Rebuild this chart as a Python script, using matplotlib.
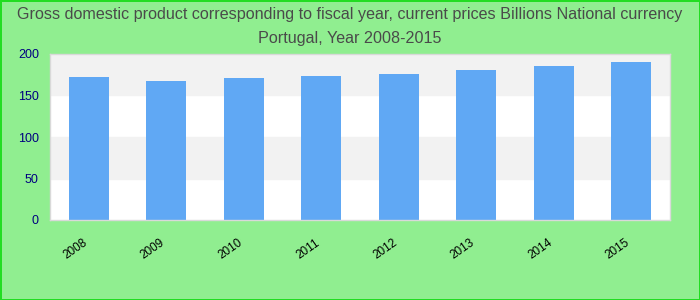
import matplotlib.pyplot as plt
import matplotlib.transforms as mtransforms

years = ["2008", "2009", "2010", "2011", "2012", "2013", "2014", "2015"]
gdp = [172, 168, 171, 174, 176, 181, 186, 190]
y_ticks = [0, 50, 100, 150, 200]

plt.rcParams['font.family'] = ['Liberation Sans', 'DejaVu Sans']

fig = plt.figure(figsize=(7, 3), dpi=100)
fig.patch.set_facecolor('#90ee90')
fig.patch.set_edgecolor('#22dd22')
fig.patch.set_linewidth(2)

ax = fig.add_axes([50 / 700, 80 / 300, 620 / 700, 166 / 300])
ax.set_facecolor('white')

# alternating grey bands
for i in range(len(y_ticks) - 1):
    if i % 2 == 1:
        ax.axhspan(y_ticks[i], y_ticks[i + 1], color='#f2f2f2', zorder=0)

x = range(len(years))
ax.bar(x, gdp, width=0.52, color='#60a8f4', zorder=2)

ax.set_xlim(-0.5, len(years) - 0.5)
ax.set_ylim(0, 200)
ax.set_yticks(y_ticks)
ax.set_xticks(list(x))
ax.set_xticklabels(years, rotation=35, ha='right', rotation_mode='anchor',
                   fontsize=8.5, color='black')
ax.tick_params(axis='y', colors='#000080', labelsize=9, length=0, pad=8)
ax.tick_params(axis='x', length=0, pad=12)

# shift x labels a bit to the left of the tick
shift = mtransforms.ScaledTranslation(-6 / 100, 0, fig.dpi_scale_trans)
for lbl in ax.get_xticklabels():
    lbl.set_transform(lbl.get_transform() + shift)

for side in ['left', 'right', 'top', 'bottom']:
    ax.spines[side].set_color('#d9d9d9')
    ax.spines[side].set_linewidth(1)

fig.text(0.5, 0.975, "Gross domestic product corresponding to fiscal year, current prices Billions National currency",
         ha='center', va='top', fontsize=11.6, color='#4a4a4a')
fig.text(0.5, 0.898, "Portugal, Year 2008-2015",
         ha='center', va='top', fontsize=11.6, color='#4a4a4a')

fig.savefig('out.png', dpi=100, facecolor=fig.get_facecolor(), edgecolor=fig.get_edgecolor())
